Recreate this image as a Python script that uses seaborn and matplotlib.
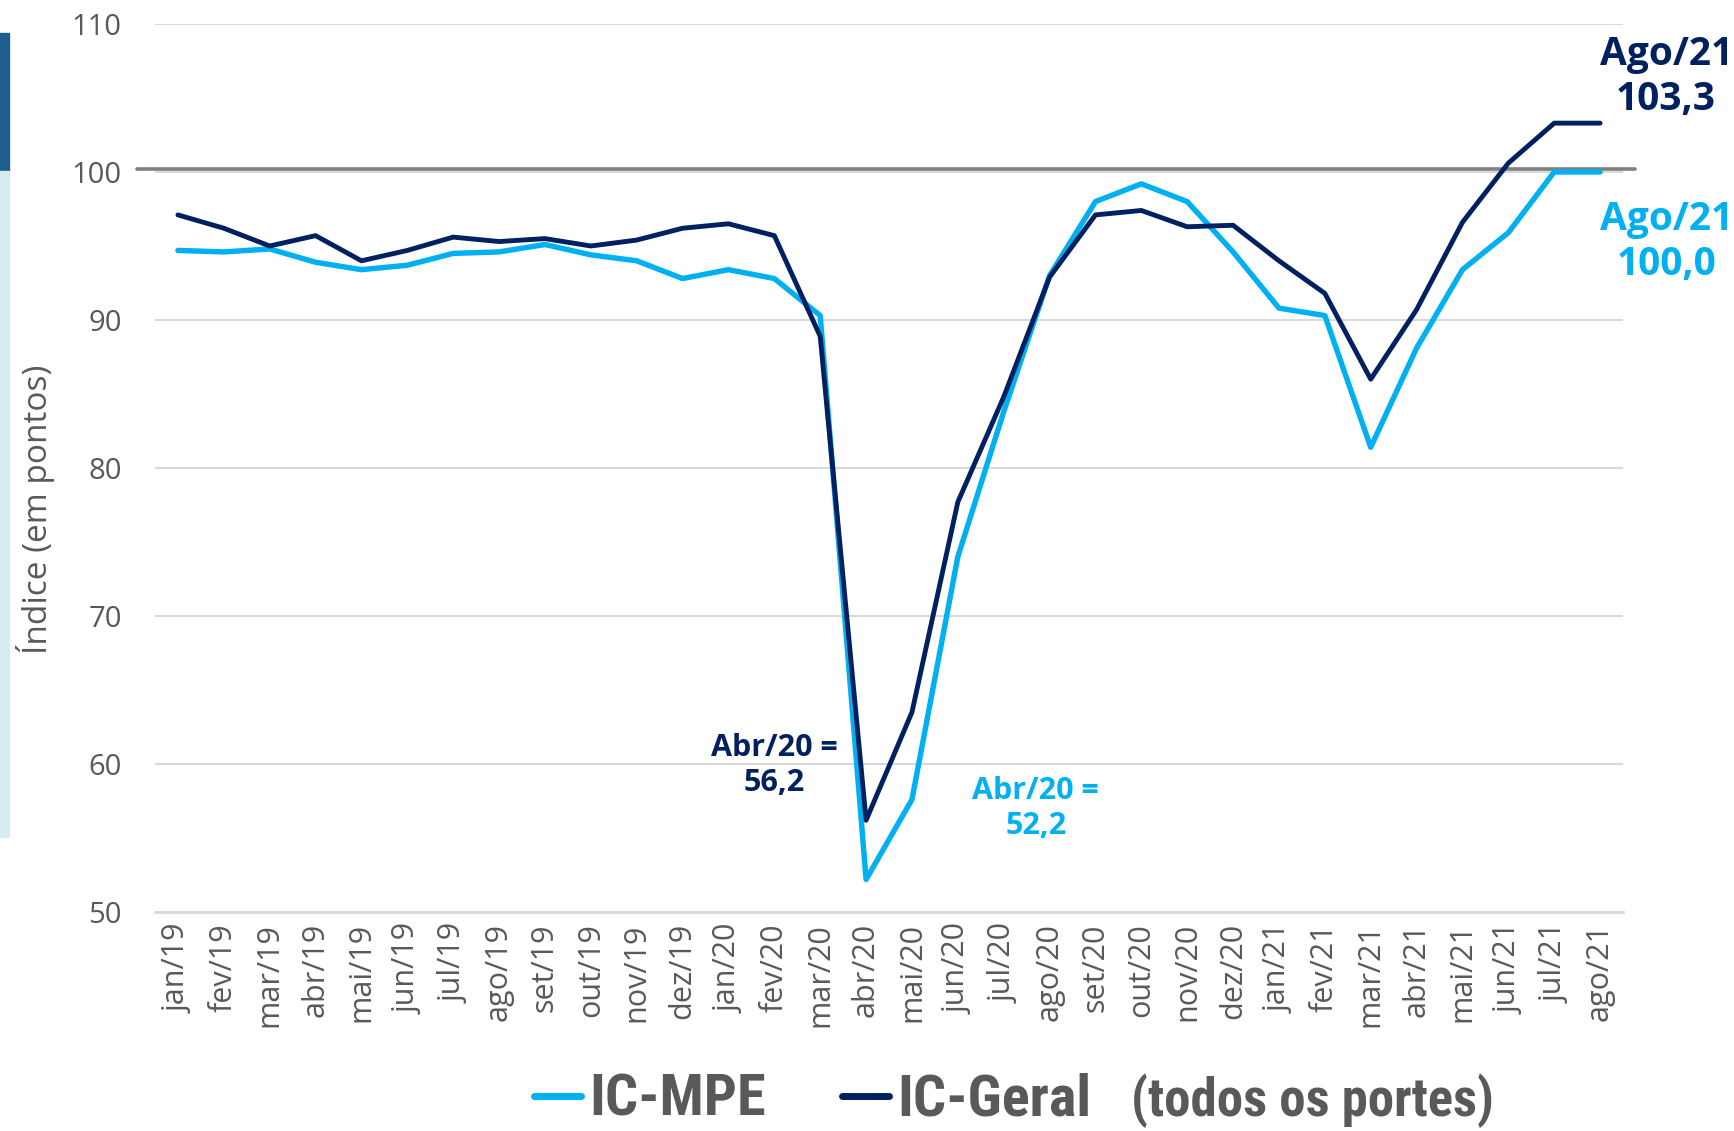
import numpy as np
import pandas as pd
import matplotlib
matplotlib.use("Agg")
import matplotlib.pyplot as plt
from matplotlib import font_manager
from matplotlib.patches import Rectangle
import seaborn as sns

# months on the x axis
meses = ['jan/19', 'fev/19', 'mar/19', 'abr/19', 'mai/19', 'jun/19', 'jul/19', 'ago/19',
         'set/19', 'out/19', 'nov/19', 'dez/19', 'jan/20', 'fev/20', 'mar/20', 'abr/20',
         'mai/20', 'jun/20', 'jul/20', 'ago/20', 'set/20', 'out/20', 'nov/20', 'dez/20',
         'jan/21', 'fev/21', 'mar/21', 'abr/21', 'mai/21', 'jun/21', 'jul/21', 'ago/21']

# IC-MPE (micro e pequenas empresas)
ic_mpe = [94.7, 94.6, 94.8, 93.9, 93.4, 93.7, 94.5, 94.6,
          95.1, 94.4, 94.0, 92.8, 93.4, 92.8, 90.3, 52.2,
          57.6, 74.0, 83.8, 93.0, 98.0, 99.2, 98.0, 94.6,
          90.8, 90.3, 81.4, 88.1, 93.4, 95.9, 100.0, 100.0]

# IC-Geral (todos os portes)
ic_geral = [97.1, 96.2, 95.0, 95.7, 94.0, 94.7, 95.6, 95.3,
            95.5, 95.0, 95.4, 96.2, 96.5, 95.7, 88.9, 56.2,
            63.5, 77.7, 84.8, 92.9, 97.1, 97.4, 96.3, 96.4,
            94.0, 91.8, 86.0, 90.7, 96.6, 100.6, 103.3, 103.3]

COR_MPE = '#00B0F0'
COR_GERAL = '#002060'
CINZA = '#595959'


def condensed_bold(size):
    # look for a narrow bold face for the legend, otherwise plain bold
    wanted = ['Roboto Condensed', 'Open Sans Condensed', 'Liberation Sans Narrow',
              'DejaVu Sans Condensed', 'Noto Sans Condensed']
    fonts = font_manager.fontManager.ttflist
    for name in wanted:
        for f in fonts:
            if f.name == name and f.weight in ('bold', 700) and f.style == 'normal':
                return font_manager.FontProperties(fname=f.fname, size=size)
    for f in fonts:
        if f.name == 'DejaVu Sans' and 'condensed' in str(f.stretch) and f.weight in ('bold', 700) \
                and f.style == 'normal':
            return font_manager.FontProperties(fname=f.fname, size=size)
    for f in fonts:
        if ('Condensed' in f.fname or 'Narrow' in f.fname) and f.weight in ('bold', 700) \
                and f.style == 'normal':
            return font_manager.FontProperties(fname=f.fname, size=size)
    return font_manager.FontProperties(family='Liberation Sans', weight='bold',
                                       size=size * 0.9)


df = pd.DataFrame({'mes': meses * 2,
                   'valor': ic_mpe + ic_geral,
                   'serie': ['IC-MPE'] * len(meses) + ['IC-Geral'] * len(meses)})

sns.set_style('white')
plt.rcParams['font.family'] = ['Open Sans', 'DejaVu Sans']

fig = plt.figure(figsize=(17.34, 11.31), dpi=100)
ax = fig.add_axes([0.0894, 0.1936, 0.8466, 0.7852])

sns.lineplot(data=df[df.serie == 'IC-MPE'], x='mes', y='valor', color=COR_MPE,
             linewidth=3.9, sort=False, label='IC-MPE', ax=ax, zorder=3)
sns.lineplot(data=df[df.serie == 'IC-Geral'], x='mes', y='valor', color=COR_GERAL,
             linewidth=3.5, sort=False, label='IC-Geral', ax=ax, zorder=4)

ax.set_xlim(-0.5, len(meses) - 0.5)
ax.set_ylim(50, 110)
ax.set_yticks(range(50, 111, 10))
ax.grid(axis='y', color='#D9D9D9', linewidth=1.5)
ax.grid(axis='x', visible=False)
for s in ['left', 'right', 'top']:
    ax.spines[s].set_visible(False)
ax.spines['bottom'].set_color('#D9D9D9')
ax.spines['bottom'].set_linewidth(2)

# reference line at 100
ax.axhline(100.2, xmin=-0.012, xmax=1.008, color='#7F7F7F', linewidth=2.6,
           clip_on=False, zorder=2)

ax.set_xticks(range(len(meses)))
ax.set_xticklabels(meses, rotation=90, fontsize=22, color=CINZA)
ax.set_xticks(np.arange(-0.5, len(meses), 1), minor=True)
ax.tick_params(axis='x', which='major', length=0, pad=8)
ax.tick_params(axis='x', which='minor', length=10, width=1.5, color='#D9D9D9', direction='out')
ax.tick_params(axis='y', length=0, pad=24, labelsize=21, labelcolor=CINZA)
ax.set_xlabel('')
ax.set_ylabel('Índice (em pontos)', fontsize=24, color=CINZA)
ax.yaxis.set_label_coords(-0.068, 0.453)

# annotations
ax.text(32.44, 106.4, 'Ago/21\n103,3', color=COR_GERAL, fontsize=28, fontweight='bold',
        ha='center', va='center', clip_on=False)
ax.text(32.44, 95.3, 'Ago/21\n100,0', color=COR_MPE, fontsize=28, fontweight='bold',
        ha='center', va='center', clip_on=False)
ax.text(13.0, 59.9, 'Abr/20 =\n56,2', color=COR_GERAL, fontsize=22, fontweight='bold',
        ha='center', va='center')
ax.text(18.7, 57.0, 'Abr/20 =\n52,2', color=COR_MPE, fontsize=22, fontweight='bold',
        ha='center', va='center')

# legend at the bottom
leg_font = condensed_bold(42)
handles, labels = ax.get_legend_handles_labels()
ax.get_legend().remove()
leg = fig.legend(handles, labels, loc='center left', bbox_to_anchor=(0.308, 0.027),
                 ncol=2, frameon=False, handlelength=0.8, handletextpad=0.15,
                 columnspacing=1.3, borderpad=0, borderaxespad=0, prop=leg_font)
for t in leg.get_texts():
    t.set_color(CINZA)
for l in leg.get_lines():
    l.set_linewidth(5)
fig.text(0.652, 0.027, '(todos os portes)', color=CINZA, ha='left', va='center',
         fontproperties=condensed_bold(38))

# decorative side bar
fig.patches.append(Rectangle((0, 0.8488), 0.0052, 0.122, transform=fig.transFigure,
                             color='#1F5F90', zorder=0))
fig.patches.append(Rectangle((0, 0.26), 0.0052, 0.5888, transform=fig.transFigure,
                             color='#D6EBF3', zorder=0))

fig.savefig('out.png', dpi=100)
